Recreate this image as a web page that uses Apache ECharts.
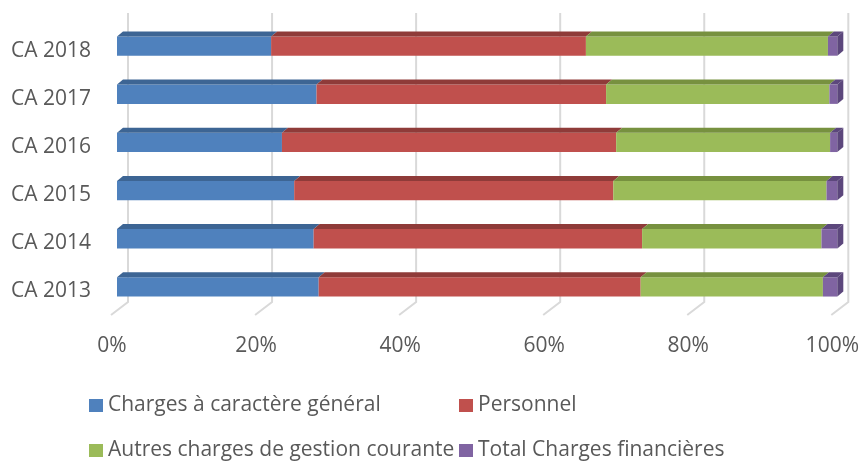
<!DOCTYPE html>
<html>
<head>
<meta charset="utf-8">
<script src="https://cdn.jsdelivr.net/npm/echarts@6/dist/echarts.min.js"></script>
<style>
  html, body { margin: 0; padding: 0; background: #fff; }
  #myChart { width: 862px; height: 461px; }
</style>
</head>
<body>
<div id="myChart"></div>
<script>
const categories = ['CA 2013', 'CA 2014', 'CA 2015', 'CA 2016', 'CA 2017', 'CA 2018']
const chargesGenerales = [28.0, 27.3, 24.6, 22.9, 27.7, 21.4]
const personnel = [44.7, 45.6, 44.3, 46.4, 40.2, 43.7]
const autresCharges = [25.3, 24.9, 29.6, 29.7, 31.0, 33.6]
const chargesFinancieres = [2.0, 2.2, 1.5, 1.0, 1.1, 1.3]
const xTicks = [0, 20, 40, 60, 80, 100]

const seriesList = [
  { name: 'Charges à caractère général', data: chargesGenerales, color: '#4f81bd', dark: '#3d6594' },
  { name: 'Personnel', data: personnel, color: '#c0504d', dark: '#8f3b39' },
  { name: 'Autres charges de gestion courante', data: autresCharges, color: '#9bbb59', dark: '#77913f' },
  { name: 'Total Charges financières', data: chargesFinancieres, color: '#8064a2', dark: '#5c477c' }
]

const textColor = '#595959'
const font = 'Open Sans'
const fontSize = 21
const depthX = 6
const depthY = 5

// stacked segments: [catIndex, start, end]
const offsets = categories.map(() => 0)
const stacked = seriesList.map((s) => {
  return s.data.map((v, i) => {
    const start = offsets[i]
    offsets[i] += v
    return [i, start, offsets[i]]
  })
})

function renderBar(item, isLast) {
  return function(params, api) {
    const i = api.value(0)
    const p0 = api.coord([api.value(1), i])
    const p1 = api.coord([api.value(2), i])
    const h = api.size([0, 1])[1] * 0.4
    const yTop = p0[1] - h / 2
    const yBot = p0[1] + h / 2
    const children = [
      {
        type: 'rect',
        shape: { x: p0[0], y: yTop, width: p1[0] - p0[0], height: h },
        style: { fill: item.color }
      },
      {
        type: 'polygon',
        shape: { points: [[p0[0], yTop], [p1[0], yTop], [p1[0] + depthX, yTop - depthY], [p0[0] + depthX, yTop - depthY]] },
        style: { fill: item.dark }
      }
    ]
    if (isLast) {
      children.push({
        type: 'polygon',
        shape: { points: [[p1[0], yTop], [p1[0] + depthX, yTop - depthY], [p1[0] + depthX, yBot - depthY], [p1[0], yBot]] },
        style: { fill: item.dark }
      })
    }
    return { type: 'group', children: children }
  }
}

function renderGrid(params, api) {
  const cs = params.coordSys
  const x = api.coord([api.value(0), 0])[0]
  const top = cs.y - 9
  const bottom = cs.y + cs.height - 9
  return {
    type: 'polyline',
    shape: { points: [[x + 11, top], [x + 11, bottom], [x - 6, bottom + 13]] },
    style: { stroke: '#d9d9d9', lineWidth: 2, fill: null }
  }
}

const series = [{
  type: 'custom',
  name: 'grid',
  silent: true,
  clip: false,
  z: 0,
  data: xTicks.map((t) => [t, 0]),
  encode: { x: 0, y: 1 },
  renderItem: renderGrid
}]

seriesList.forEach((s, k) => {
  series.push({
    type: 'custom',
    name: s.name,
    clip: false,
    z: 2,
    itemStyle: { color: s.color },
    data: stacked[k],
    encode: { x: [1, 2], y: 0 },
    renderItem: renderBar(s, k === seriesList.length - 1)
  })
})

// one legend box per entry so the two columns line up
const legendPos = [[89, 395], [459, 395], [89, 440], [459, 440]]
const legends = seriesList.map((s, k) => {
  return {
    data: [s.name],
    left: legendPos[k][0],
    top: legendPos[k][1],
    padding: 0,
    itemWidth: 14,
    itemHeight: 13,
    icon: 'rect',
    textStyle: { color: textColor, fontSize: fontSize, fontFamily: font, lineHeight: 20 }
  }
})

const chart = echarts.init(document.getElementById('myChart'))
chart.setOption({
  animation: false,
  textStyle: { fontFamily: font },
  grid: {
    left: 117,
    right: 23,
    top: 22,
    height: 289
  },
  legend: legends,
  xAxis: {
    type: 'value',
    min: 0,
    max: 100,
    interval: 20,
    axisLine: { show: false },
    axisTick: { show: false },
    splitLine: { show: false },
    axisLabel: {
      margin: 25,
      formatter: '{a|{value}%}',
      rich: { a: { color: textColor, fontSize: fontSize, fontFamily: font, padding: [0, 10, 0, 0] } }
    }
  },
  yAxis: {
    type: 'category',
    data: categories,
    axisLine: { show: false },
    axisTick: { show: false },
    splitLine: { show: false },
    axisLabel: {
      margin: 26,
      formatter: '{a|{value}}',
      rich: { a: { color: textColor, fontSize: fontSize, fontFamily: font, padding: [9, 0, 0, 0] } }
    }
  },
  series: series
})
</script>
</body>
</html>
